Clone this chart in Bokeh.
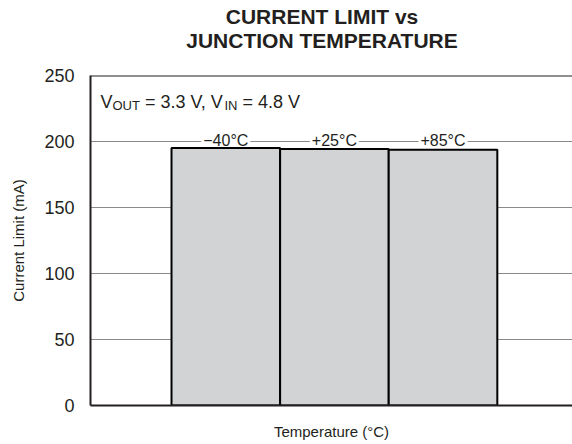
from bokeh.plotting import figure
from bokeh.models import Range1d, Span, Label, FixedTicker, Div
from bokeh.layouts import column
from bokeh.embed import file_html
from bokeh.resources import INLINE

# ---- data ----
temps = ["\u221240\u00b0C", "+25\u00b0C", "+85\u00b0C"]
current_limit = [195.0, 194.4, 193.8]
y_ticks = [0, 50, 100, 150, 200, 250]
grid_ticks = [50, 100, 150, 200]
title_lines = ["CURRENT LIMIT vs", "JUNCTION TEMPERATURE"]
x_label = "Temperature (\u00b0C)"
y_label = "Current Limit (mA)"
cond_parts = ["V", "OUT", "= 3.3 V, V", "IN", "= 4.8 V"]
cond_is_sub = [False, True, False, True, False]

# ---- layout ----
FONT = "Liberation Sans"
TXT = "#231f20"
PAGE_W, PAGE_H = 572, 444
TITLE_H = 56
W, H = PAGE_W, PAGE_H - TITLE_H
ML, MR, MT, MB = 90, 0, 75 - TITLE_H, 39
frame_w = W - ML - MR
frame_h = H - MT - MB
SLOT = 108.6
x_start = -1.246
x_end = x_start + frame_w / SLOT
Y_MAX = 250
ppu = frame_h / Y_MAX

title_html = (
    '<div style="width:%dpx; box-sizing:border-box; padding-left:72px; padding-top:5px; '
    'text-align:center; font-family:\'%s\'; font-weight:bold; font-size:21px; '
    'line-height:24px; color:%s; margin:0;">%s</div>'
    % (PAGE_W, FONT, TXT, "<br>".join(title_lines))
)
title_div = Div(text=title_html, width=PAGE_W, height=TITLE_H, margin=0)

p = figure(width=W, height=H, x_range=Range1d(x_start, x_end), y_range=Range1d(0, Y_MAX),
           min_border_left=ML, min_border_right=MR, min_border_top=MT, min_border_bottom=MB,
           output_backend="svg", toolbar_location=None)
p.outline_line_color = None
p.background_fill_color = "white"
p.border_fill_color = "white"
p.xgrid.visible = False
p.ygrid.ticker = FixedTicker(ticks=grid_ticks)
p.ygrid.grid_line_color = "#8a8a8a"
p.ygrid.grid_line_width = 1

ya = p.yaxis[0]
ya.ticker = FixedTicker(ticks=y_ticks)
ya.axis_line_width = 2
ya.axis_line_color = TXT
ya.major_tick_line_color = None
ya.minor_tick_line_color = None
ya.major_label_text_font = FONT
ya.major_label_text_font_size = "18px"
ya.major_label_text_color = TXT
ya.major_label_standoff = 10
ya.axis_label = y_label
ya.axis_label_text_font = FONT
ya.axis_label_text_font_size = "15px"
ya.axis_label_text_font_style = "normal"
ya.axis_label_text_color = TXT
ya.axis_label_standoff = 14

xa = p.xaxis[0]
xa.ticker = FixedTicker(ticks=[])
xa.axis_line_width = 2
xa.axis_line_color = TXT
xa.major_tick_line_color = None
xa.minor_tick_line_color = None
xa.major_label_standoff = 0
xa.axis_label = x_label
xa.axis_label_text_font = FONT
xa.axis_label_text_font_size = "15px"
xa.axis_label_text_font_style = "normal"
xa.axis_label_text_color = TXT
xa.axis_label_standoff = 17

p.add_layout(Span(location=Y_MAX, dimension="width", line_width=2, line_color=TXT))

xs = list(range(len(temps)))
p.vbar(x=xs, top=current_limit, bottom=0, width=1.0, fill_color="#d1d3d4",
       line_color="black", line_width=2)

# temperature labels sitting on the 200 mA grid line (drawn beneath the bars)
for xi, t in zip(xs, temps):
    p.add_layout(Label(x=xi, y=200 + 1.0 / ppu, text=t, text_align="center",
                       text_baseline="alphabetic", text_font=FONT, text_font_size="16px",
                       text_color=TXT, background_fill_color="white", padding=2,
                       level="underlay"))

# condition text with subscripts
offsets = [10, 22, 54.4, 134, 152]
for part, sub, off in zip(cond_parts, cond_is_sub, offsets):
    base = 230 - (3.0 if sub else 0.0)
    p.add_layout(Label(x=x_start, x_offset=off, y=base, text=part, text_align="left",
                       text_baseline="alphabetic", text_font=FONT,
                       text_font_size="13px" if sub else "18px", text_color=TXT))

layout = column(title_div, p)
open("out.html", "w").write(file_html(layout, INLINE))
